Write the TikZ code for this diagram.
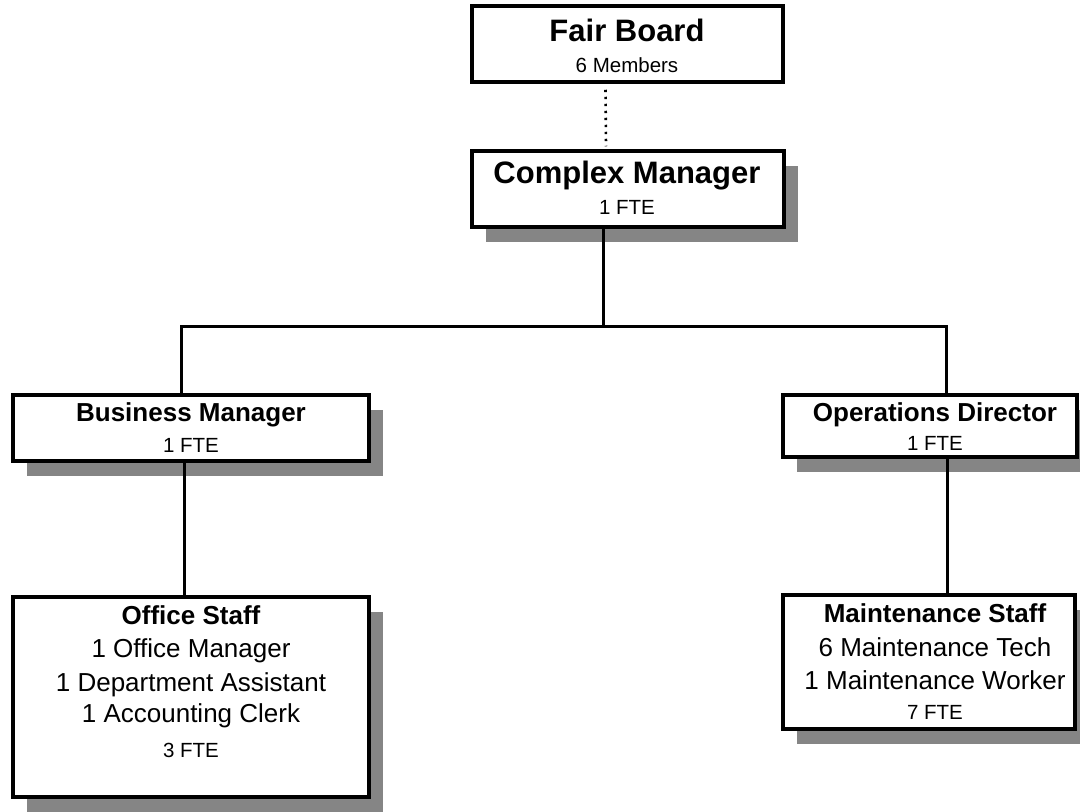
\documentclass[tikz,border=0pt]{standalone}
\usepackage{fontspec}
\setmainfont{Liberation Sans}
\usetikzlibrary{shadows,calc}
\tikzset{
  box/.style={draw=black, line width=3.5pt, fill=white, inner sep=0pt},
  shbox/.style={box, drop shadow={shadow xshift=14pt, shadow yshift=-15pt, fill=black!48, opacity=1}},
  conn/.style={draw=black, line width=3pt},
  dotconn/.style={draw=black, line width=2.6pt, dash pattern=on 2.4pt off 4.6pt},
  ttl/.style={anchor=base, inner sep=0pt, font=\fontsize{26}{30}\selectfont\bfseries},
  bigttl/.style={anchor=base, inner sep=0pt, font=\fontsize{31}{36}\selectfont\bfseries},
  line/.style={anchor=base, inner sep=0pt, font=\fontsize{26}{30}\selectfont},
  small/.style={anchor=base, inner sep=0pt, font=\fontsize{20.5}{24}\selectfont},
}
\begin{document}
\begin{tikzpicture}[x=1pt,y=-1pt]
\useasboundingbox (0,0) rectangle (1080,812);
% boxes
\node[box, minimum width=311pt, minimum height=76pt] (fb) at (627.5,44) {};
\node[shbox, minimum width=312pt, minimum height=76pt] (cm) at (628,189) {};
\node[shbox, minimum width=356pt, minimum height=66pt] (bm) at (191,428) {};
\node[shbox, minimum width=294pt, minimum height=62pt] (od) at (930,426) {};
\node[shbox, minimum width=356pt, minimum height=200pt] (os) at (191,697) {};
\node[shbox, minimum width=292pt, minimum height=134pt] (ms) at (929,662) {};
% texts
\node[bigttl] (fbt) at (627,41) {Fair Board};
\node[small] (fbs) at (627,72.5) {6 Members};
\node[bigttl] (cmt) at (627,183) {Complex Manager};
\node[small] (cms) at (627,214.5) {1 FTE};
\node[ttl] (bmt) at (191,421.5) {Business Manager};
\node[small] (bms) at (191,452.5) {1 FTE};
\node[ttl] (odt) at (935,421.5) {Operations Director};
\node[small] (ods) at (935,450.5) {1 FTE};
\node[ttl] (ost) at (191,624.5) {Office Staff};
\node[line] (os1) at (191,657.5) {1 Office Manager};
\node[line] (os2) at (191,691.5) {1 Department Assistant};
\node[line] (os3) at (191,722.5) {1 Accounting Clerk};
\node[small] (os4) at (191,757.5) {3 FTE};
\node[ttl] (mst) at (935,622.5) {Maintenance Staff};
\node[line] (ms1) at (935,656.5) {6 Maintenance Tech};
\node[line] (ms2) at (935,689.5) {1 Maintenance Worker};
\node[small] (ms3) at (935,719.5) {7 FTE};
% connectors
\coordinate (j) at (603,326);
\coordinate (jl) at (181,326);
\coordinate (jr) at (946,326);
\draw[dotconn] ([xshift=-22pt,yshift=-6pt]fb.south) -- ([xshift=-22pt,yshift=3pt]cm.north);
\draw[conn] (j |- cm.south) -- (j);
\draw[conn] (jl |- bm.north) -- (jl) -- (jr) -- (jr |- od.north);
\draw[conn] ([xshift=-7pt]bm.south) -- ([xshift=-7pt]os.north);
\draw[conn] ([xshift=17pt]od.south) -- ([xshift=17pt]od.south |- ms.north);
\end{tikzpicture}
\end{document}
